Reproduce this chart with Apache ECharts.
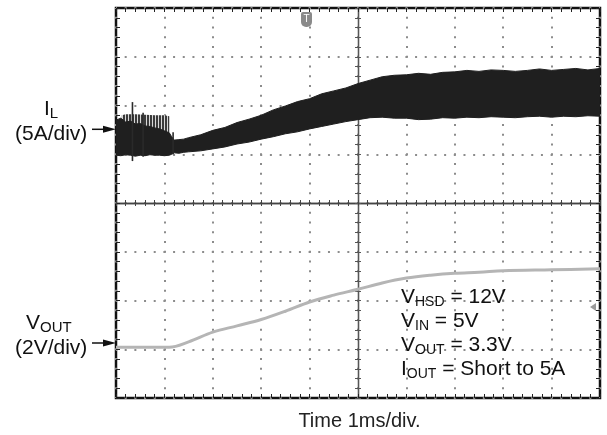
<!DOCTYPE html>
<html><head><meta charset="utf-8">
<script src="https://cdn.jsdelivr.net/npm/echarts@6/dist/echarts.min.js"></script>
<style>html,body{margin:0;padding:0;background:#fff}#c{width:607px;height:435px}</style>
</head><body><div id="c"></div>
<script>
// ---- data (x in time divisions 0..10, y in vertical divisions 0..8) ----
const ilTime = [0, 0.1, 0.2, 0.3, 0.4, 0.5, 0.6, 0.7, 0.8, 0.9, 1.0, 1.1, 1.15, 1.2, 1.3, 1.4, 1.5, 1.75, 2.0, 2.25, 2.5, 2.75, 3.0, 3.25, 3.5, 3.75, 4.0, 4.25, 4.5, 4.75, 5.0, 5.25, 5.5, 5.75, 6.0, 6.25, 6.5, 6.75, 7.0, 7.25, 7.5, 7.75, 8.0, 8.25, 8.5, 8.75, 9.0, 9.25, 9.5, 9.75, 10];
const ilHigh = [5.70, 5.74, 5.66, 5.68, 5.62, 5.63, 5.58, 5.57, 5.54, 5.52, 5.48, 5.44, 5.36, 5.29, 5.30, 5.31, 5.34, 5.40, 5.49, 5.55, 5.65, 5.72, 5.80, 5.91, 5.99, 6.08, 6.14, 6.24, 6.30, 6.36, 6.45, 6.52, 6.59, 6.62, 6.63, 6.66, 6.64, 6.68, 6.69, 6.72, 6.70, 6.73, 6.72, 6.70, 6.72, 6.75, 6.72, 6.74, 6.76, 6.73, 6.76];
const ilLow  = [4.98, 4.97, 4.99, 4.98, 4.96, 4.98, 4.97, 4.99, 4.98, 4.98, 4.97, 4.98, 5.00, 5.03, 5.02, 5.04, 5.05, 5.07, 5.11, 5.15, 5.21, 5.25, 5.31, 5.36, 5.42, 5.46, 5.52, 5.57, 5.62, 5.67, 5.71, 5.75, 5.76, 5.74, 5.74, 5.71, 5.72, 5.75, 5.74, 5.76, 5.75, 5.77, 5.76, 5.75, 5.77, 5.78, 5.76, 5.78, 5.77, 5.79, 5.78];
const ilStripeTime = [0.12, 0.2, 0.4, 0.6, 0.8, 1.0, 1.1];
const ilStripeTop  = [5.80, 5.82, 5.82, 5.81, 5.80, 5.80, 5.78];
const ilSpikeTime   = [0.34, 0.56, 1.18];
const ilSpikeTop    = [6.07, 5.85, 5.45];
const ilSpikeBottom = [4.86, 4.95, 5.00];
const voutTime  = [0, 1.1, 1.5, 2.0, 2.5, 3.0, 3.5, 4.0, 4.5, 5.0, 5.5, 6.0, 6.5, 7.0, 7.5, 8.0, 9.0, 10];
const voutValue = [1.04, 1.04, 1.15, 1.35, 1.48, 1.61, 1.78, 1.97, 2.11, 2.23, 2.36, 2.46, 2.52, 2.56, 2.58, 2.61, 2.63, 2.65];
const xDivisions = 10, yDivisions = 8;
const xTitle = 'Time 1ms/div.';
const legendLines = [['V', 'HSD', ' = 12V'], ['V', 'IN', ' = 5V'], ['V', 'OUT', ' = 3.3V'], ['I', 'OUT', ' = Short to 5A']];

const FONT = '"Liberation Sans", Arial, Helvetica, sans-serif';
const chart = echarts.init(document.getElementById('c'), null, {renderer: 'canvas'});
const G = {left: 116, top: 8, width: 484, height: 390};

// vertical stripe pattern for the switching region
const pc = document.createElement('canvas');
pc.width = 3; pc.height = 4;
const pctx = pc.getContext('2d');
pctx.fillStyle = '#d8d8d8'; pctx.fillRect(0, 0, 3, 4);
pctx.fillStyle = '#3a3a3a'; pctx.fillRect(0, 0, 2, 4);
const stripeFill = {image: pc, repeat: 'repeat'};

function bandSeries(times, lo, hi, color, z) {
  const data = times.map((t, i) => [t, lo[i], hi[i]]);
  return {
    type: 'custom', xAxisIndex: 0, yAxisIndex: 0, z, silent: true, clip: true,
    data, encode: {x: 0, y: [1, 2]},
    renderItem(params, api) {
      if (params.dataIndex !== 0) return null;
      const top = data.map(d => api.coord([d[0], d[2]]));
      const bot = data.map(d => api.coord([d[0], d[1]])).reverse();
      const solid = typeof color === 'string';
      return {type: 'polygon', shape: {points: top.concat(bot)},
        style: solid ? {fill: color, stroke: color, lineWidth: 1} : {fill: color}};
    }
  };
}
function spikeSeries(times, bottoms, tops, color, z) {
  const data = times.map((t, i) => [t, bottoms[i], tops[i]]);
  return {
    type: 'custom', xAxisIndex: 0, yAxisIndex: 0, z, silent: true,
    data, encode: {x: 0, y: [1, 2]},
    renderItem(params, api) {
      const p1 = api.coord([api.value(0), api.value(1)]);
      const p2 = api.coord([api.value(0), api.value(2)]);
      return {type: 'line', shape: {x1: p1[0], y1: p1[1], x2: p2[0], y2: p2[1]}, style: {stroke: color, lineWidth: 1.6}};
    }
  };
}

const tickC = '#222';
const frameX = (pos) => ({
  gridIndex: 0, type: 'value', min: 0, max: xDivisions, interval: 1, position: pos,
  axisLine: {show: false, onZero: false},
  axisTick: {show: true, inside: true, length: 4, lineStyle: {color: tickC, width: 1}},
  minorTick: {show: true, splitNumber: 5, length: 4, lineStyle: {color: tickC, width: 1}},
  axisLabel: {show: false},
  splitLine: pos === 'bottom' ? {show: true, lineStyle: {color: '#8c8c8c', width: 2, type: [2, 7.75], dashOffset: 1}} : {show: false}
});
const frameY = (pos) => ({
  gridIndex: 0, type: 'value', min: 0, max: yDivisions, interval: 1, position: pos,
  axisLine: {show: false, onZero: false},
  axisTick: {show: true, inside: true, length: 4, lineStyle: {color: tickC, width: 1}},
  minorTick: {show: true, splitNumber: 5, length: 4, lineStyle: {color: tickC, width: 1}},
  axisLabel: {show: false},
  splitLine: pos === 'left' ? {show: true, lineStyle: {color: '#8c8c8c', width: 2, type: [2, 7.68], dashOffset: 1}} : {show: false}
});
const centerX = (gi, inside) => ({
  gridIndex: gi, type: 'value', min: -xDivisions / 2, max: xDivisions / 2, interval: 1,
  axisLine: {show: true, onZero: true, lineStyle: {color: '#444', width: 1.3}},
  axisTick: {show: true, inside, length: 3, lineStyle: {color: '#444', width: 1}},
  minorTick: {show: true, splitNumber: 5, length: 3, lineStyle: {color: '#444', width: 1}},
  axisLabel: {show: false}, splitLine: {show: false}
});
const centerY = (gi, inside) => ({
  gridIndex: gi, type: 'value', min: -yDivisions / 2, max: yDivisions / 2, interval: 1,
  axisLine: {show: true, onZero: true, lineStyle: {color: '#555', width: 1.3}},
  axisTick: {show: true, inside, length: 3, lineStyle: {color: '#555', width: 1}},
  minorTick: {show: true, splitNumber: 5, length: 3, lineStyle: {color: '#555', width: 1}},
  axisLabel: {show: false}, splitLine: {show: false}
});

const mainRich = {
  m: {fontFamily: FONT, fontSize: 21, lineHeight: 24, fill: '#111', color: '#111', verticalAlign: 'middle'},
  s: {fontFamily: FONT, fontSize: 14, lineHeight: 16, fill: '#111', color: '#111', verticalAlign: 'bottom'}
};
const legendText = legendLines.map(l => '{m|' + l[0] + '}{s|' + l[1] + '}{m|' + l[2] + '}').join('\n');

function txt(x, y, text, size, align, vAlign, rich, fill) {
  return {type: 'text', x, y, z: 100, silent: true, style: {
    text, fontFamily: FONT, fontSize: size, fill: fill || '#111',
    align, textAlign: align, verticalAlign: vAlign, textVerticalAlign: vAlign, rich
  }};
}
function arrow(y) {
  return [
    {type: 'line', z: 100, shape: {x1: 92, y1: y, x2: 106, y2: y}, style: {stroke: '#111', lineWidth: 1.5}},
    {type: 'polygon', z: 100, shape: {points: [[103, y - 3.5], [116, y], [103, y + 3.5]]}, style: {fill: '#111'}}
  ];
}

chart.setOption({
  backgroundColor: '#fff',
  animation: false,
  grid: [
    Object.assign({show: true, borderColor: '#111', borderWidth: 2.5, backgroundColor: 'transparent', z: 0}, G),
    Object.assign({show: false}, G),
    Object.assign({show: false}, G)
  ],
  xAxis: [frameX('bottom'), frameX('top'), centerX(1, true), centerX(2, false)],
  yAxis: [frameY('left'), frameY('right'), centerY(1, true), centerY(2, false)],
  series: [
    bandSeries(ilStripeTime, ilStripeTime.map(() => 5.0), ilStripeTop, stripeFill, 3),
    bandSeries(ilTime, ilLow, ilHigh, '#1f1f1f', 4),
    spikeSeries(ilSpikeTime, ilSpikeBottom, ilSpikeTop, '#2a2a2a', 5),
    {
      type: 'line', xAxisIndex: 0, yAxisIndex: 0, z: 5, silent: true,
      data: voutTime.map((t, i) => [t, voutValue[i]]),
      symbol: 'none', smooth: 0.35,
      lineStyle: {color: '#b5b5b5', width: 3}
    }
  ],
  graphic: [
    txt(44, 109, '{m|I}{s|L}', 21, 'left', 'middle', {
      m: {fontFamily: FONT, fontSize: 21, lineHeight: 24, fill: '#111', verticalAlign: 'middle'},
      s: {fontFamily: FONT, fontSize: 15, lineHeight: 10, fill: '#111', verticalAlign: 'bottom'}
    }),
    txt(15, 134, '(5A/div)', 21, 'left', 'middle'),
    txt(26, 323, '{m|V}{s|OUT}', 21, 'left', 'middle', {
      m: {fontFamily: FONT, fontSize: 21, lineHeight: 24, fill: '#111', verticalAlign: 'middle'},
      s: {fontFamily: FONT, fontSize: 15, lineHeight: 12, fill: '#111', verticalAlign: 'bottom'}
    }),
    txt(15, 348, '(2V/div)', 21, 'left', 'middle'),
    ...arrow(129.3),
    ...arrow(343),
    txt(401, 285.5, legendText, 21, 'left', 'top', mainRich),
    txt(359.5, 421, xTitle, 20, 'center', 'middle', null, '#222'),
    {type: 'rect', z: 100, shape: {x: 301, y: 12, width: 11, height: 15, r: [2, 2, 5, 5]}, style: {fill: '#8a8a8a'}},
    txt(306.5, 19.5, 'T', 10, 'center', 'middle', null, '#fff'),
    {type: 'polygon', z: 100, shape: {points: [[596, 303], [590, 307], [596, 311]]}, style: {fill: '#9a9a9a'}}
  ]
});
</script></body></html>
